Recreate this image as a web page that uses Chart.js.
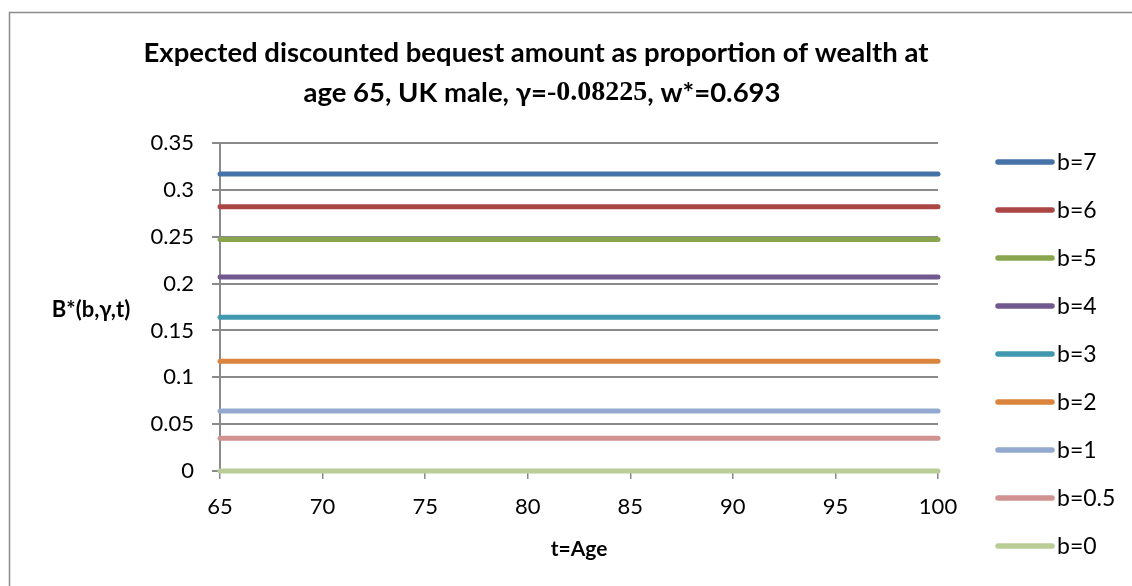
<!DOCTYPE html>
<html><head><meta charset="utf-8">
<script src="https://cdn.jsdelivr.net/npm/chart.js@4/dist/chart.umd.min.js"></script>
<style>html,body{margin:0;padding:0;background:#fff;overflow:hidden}#wrap{width:1132px;height:586px;position:relative}</style>
</head><body><div id="wrap"><canvas id="c" width="1132" height="586"></canvas></div>
<script>
// ---- data ----
const ages = [65, 70, 75, 80, 85, 90, 95, 100];
const seriesLabels = ['b=7', 'b=6', 'b=5', 'b=4', 'b=3', 'b=2', 'b=1', 'b=0.5', 'b=0'];
const b7  = [0.317, 0.317, 0.317, 0.317, 0.317, 0.317, 0.317, 0.317];
const b6  = [0.282, 0.282, 0.282, 0.282, 0.282, 0.282, 0.282, 0.282];
const b5  = [0.247, 0.247, 0.247, 0.247, 0.247, 0.247, 0.247, 0.247];
const b4  = [0.207, 0.207, 0.207, 0.207, 0.207, 0.207, 0.207, 0.207];
const b3  = [0.164, 0.164, 0.164, 0.164, 0.164, 0.164, 0.164, 0.164];
const b2  = [0.117, 0.117, 0.117, 0.117, 0.117, 0.117, 0.117, 0.117];
const b1  = [0.064, 0.064, 0.064, 0.064, 0.064, 0.064, 0.064, 0.064];
const b05 = [0.035, 0.035, 0.035, 0.035, 0.035, 0.035, 0.035, 0.035];
const b0  = [0, 0, 0, 0, 0, 0, 0, 0];
const seriesValues = [b7, b6, b5, b4, b3, b2, b1, b05, b0];
const yTickLabels = ['0', '0.05', '0.1', '0.15', '0.2', '0.25', '0.3', '0.35'];
const xTickLabels = ['65', '70', '75', '80', '85', '90', '95', '100'];
const seriesColors = ['#4572A7', '#AA4643', '#89A54E', '#71588F', '#4198AF', '#DB843D', '#93A9CF', '#D19392', '#B9CD96'];
const titleLine1 = 'Expected discounted bequest amount as proportion of wealth at';
const titleLine2Parts = ['age 65, UK male, γ=', '-0.08225', ', w*=0.693'];
const yAxisTitle = 'B*(b,γ,t)';
const xAxisTitle = 't=Age';

const SANS = 'Lato, "Open Sans", sans-serif';
const SERIF = '"Liberation Serif", "DejaVu Serif", serif';
const GRID = '#8a8a8a';

const datasets = seriesLabels.map((lab, i) => ({
  label: lab,
  data: ages.map((a, j) => ({x: a, y: seriesValues[i][j]})),
  borderColor: seriesColors[i],
  backgroundColor: seriesColors[i],
  borderWidth: 5,
  pointRadius: 0,
  borderCapStyle: 'round',
  tension: 0,
  clip: false
}));

const decor = {
  id: 'decor',
  beforeDraw(chart) {
    const ctx = chart.ctx;
    ctx.save();
    ctx.fillStyle = '#fff';
    ctx.fillRect(0, 0, chart.width, chart.height);
    ctx.strokeStyle = '#8c8c8c';
    ctx.lineWidth = 1.5;
    ctx.strokeRect(9.5, 12.5, 1300, 800);
    ctx.restore();
  },
  afterDraw(chart) {
    const ctx = chart.ctx;
    ctx.save();
    ctx.fillStyle = '#000';
    ctx.textBaseline = 'middle';
    // title
    ctx.font = 'bold 27.5px ' + SANS;
    ctx.textAlign = 'center';
    ctx.fillText(titleLine1, 536, 53);
    const fonts = ['bold 27.5px ' + SANS, 'bold 28px ' + SERIF, 'bold 27.5px ' + SANS];
    let total = 0;
    const widths = titleLine2Parts.map((p, i) => { ctx.font = fonts[i]; const w = ctx.measureText(p).width; total += w; return w; });
    let x = 542 - total / 2;
    ctx.textAlign = 'left';
    titleLine2Parts.forEach((p, i) => { ctx.font = fonts[i]; ctx.fillText(p, x, 93); x += widths[i]; });
    // y axis title
    ctx.font = 'bold 22px ' + SANS;
    ctx.textAlign = 'center';
    ctx.fillText(yAxisTitle, 91, 310);
    // legend
    ctx.font = '23px ' + SANS;
    ctx.textAlign = 'left';
    chart.data.datasets.forEach((ds, i) => {
      const y = 162 + i * 48;
      ctx.strokeStyle = ds.borderColor;
      ctx.lineWidth = 5.5;
      ctx.lineCap = 'round';
      ctx.beginPath();
      ctx.moveTo(998, y);
      ctx.lineTo(1052, y);
      ctx.stroke();
      ctx.fillStyle = '#000';
      ctx.fillText(ds.label, 1057, y + 1);
    });
    ctx.restore();
  }
};

new Chart(document.getElementById('c'), {
  type: 'line',
  data: {datasets},
  plugins: [decor],
  options: {
    responsive: false,
    animation: false,
    devicePixelRatio: 1,
    layout: {padding: {top: 143, right: 194, bottom: 0, left: 0}},
    plugins: {legend: {display: false}, title: {display: false}, tooltip: {enabled: false}},
    scales: {
      x: {
        type: 'linear', min: 65, max: 100,
        afterFit(s) { s.height = 115; },
        ticks: {stepSize: 5, padding: 15, color: '#000', font: {family: SANS, size: 22},
          callback: (v) => xTickLabels[ages.indexOf(v)] ?? ''},
        grid: {drawOnChartArea: false, drawTicks: true, tickLength: 8, color: GRID, lineWidth: 1.5},
        border: {color: GRID, width: 2},
        title: {display: true, text: xAxisTitle, color: '#000', font: {family: SANS, size: 21, weight: 'bold'}, padding: {top: 0, bottom: 24}}
      },
      y: {
        min: 0, max: 0.35,
        afterFit(s) { s.width = 220; },
        ticks: {stepSize: 0.05, padding: 18, color: '#000', font: {family: SANS, size: 22},
          callback: (v, i) => yTickLabels[i]},
        grid: {color: GRID, lineWidth: 2, tickLength: 8},
        border: {color: GRID, width: 2}
      }
    }
  }
});
</script></body></html>
